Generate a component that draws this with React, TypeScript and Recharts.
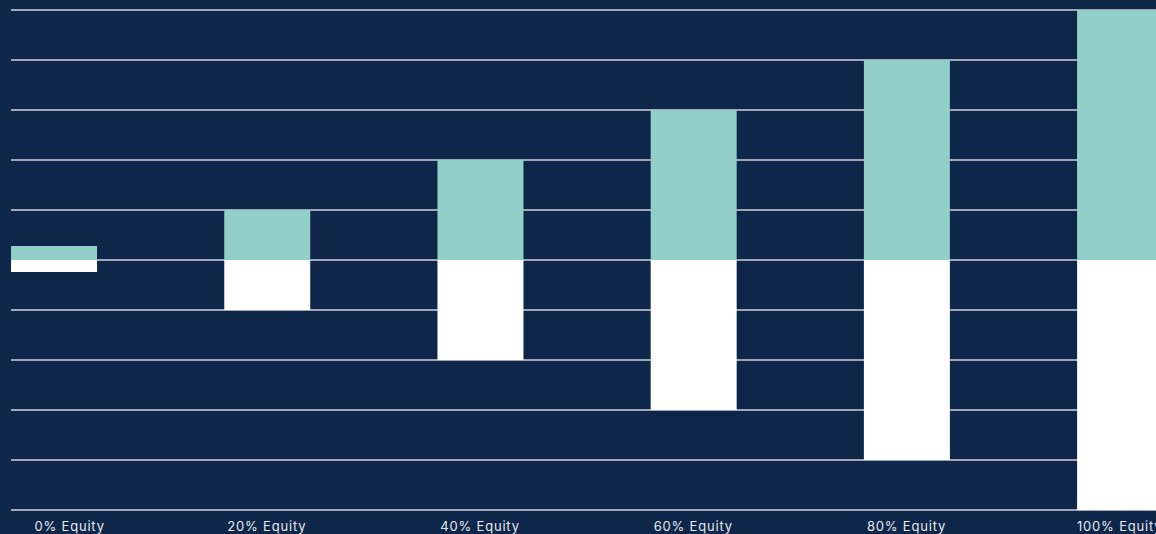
import { BarChart, Bar, XAxis, YAxis, CartesianGrid } from 'recharts'

const categories = ['0% Equity', '20% Equity', '40% Equity', '60% Equity', '80% Equity', '100% Equity']
const upside = [2.8, 10, 20, 30, 40, 50]
const downside = [-2.4, -10, -20, -30, -40, -50]
const yTicks = [-50, -40, -30, -20, -10, 0, 10, 20, 30, 40, 50]

const NAVY = '#0d264a'
const TEAL = '#93cfc9'

const data = categories.map((name, i) => ({
  idx: i,
  name,
  up: upside[i],
  down: downside[i],
}))

function EquityTick(props: any) {
  const { x, y, payload, index } = props
  // first label sits a little to the right of its bar in the original
  const shift = index === 0 ? 16 : 0
  return (
    <text
      x={x + shift}
      y={y}
      dy="0.71em"
      textAnchor="middle"
      fill="#e6e9ef"
      fontSize={13}
      fontFamily="Inter, 'Noto Sans', sans-serif"
      letterSpacing={0.8}
    >
      {categories[payload.value]}
    </text>
  )
}

export default function App() {
  return (
    <div
      style={{
        position: 'fixed',
        left: 0,
        top: 0,
        width: 1156,
        height: 534,
        overflow: 'hidden',
        background: NAVY,
      }}
    >
      <BarChart
        width={1211}
        height={534}
        data={data}
        stackOffset="sign"
        margin={{ top: 10, right: 6, bottom: 0, left: 11 }}
      >
        <CartesianGrid vertical={false} stroke="#cdd2da" strokeWidth={1.5} />
        <XAxis
          type="number"
          dataKey="idx"
          domain={[-0.2, 5.4]}
          ticks={[0, 1, 2, 3, 4, 5]}
          axisLine={false}
          tickLine={false}
          tickMargin={6}
          height={24}
          tick={<EquityTick />}
        />
        <YAxis hide type="number" domain={[-50, 50]} ticks={yTicks} />
        <Bar dataKey="up" stackId="a" fill={TEAL} barSize={86} isAnimationActive={false} />
        <Bar dataKey="down" stackId="a" fill="#ffffff" barSize={86} isAnimationActive={false} />
      </BarChart>
    </div>
  )
}
